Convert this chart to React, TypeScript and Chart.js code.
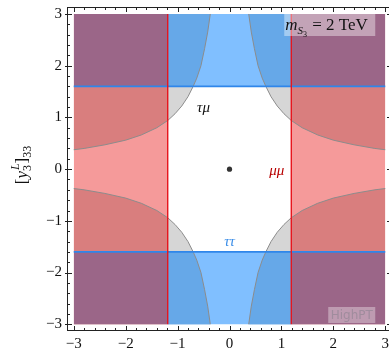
import React, { useEffect, useRef } from "react";
import { Chart, registerables } from "chart.js";

Chart.register(...registerables);

// Boundary of the tau-mu excluded region, first quadrant
const CURVE_X = [0.37, 0.42, 0.48, 0.55, 0.63, 0.7, 0.8, 0.92, 1.05, 1.19, 1.4, 1.7, 2.0, 2.4, 2.8, 3.0];
const CURVE_Y = [3.0, 2.65, 2.33, 2.0, 1.76, 1.6, 1.4, 1.22, 1.07, 0.94, 0.8, 0.66, 0.56, 0.47, 0.4, 0.375];

// Limits
const MUMU_LIMIT = 1.19; // |x| beyond is excluded (mu mu)
const TAUTAU_LIMIT = 1.6; // |y| beyond is excluded (tau tau)
const RANGE = 3;

// Axis ticks
const X_TICKS = [-3, -2, -1, 0, 1, 2, 3];
const Y_TICKS = [-3, -2, -1, 0, 1, 2, 3];

// Benchmark point
const POINT = [{ x: 0, y: 0 }];

// Labels
const LABEL_TAUMU = { x: -0.5, y: 1.19, text: "τμ" };
const LABEL_MUMU = { x: 0.91, y: -0.04, text: "μμ" };
const LABEL_TAUTAU = { x: 0.0, y: -1.41, text: "ττ" };

const C_GRAY = "#d6d6d6";
const C_PINK = "#f59a9a";
const C_DARKRED = "#d97e7e";
const C_LBLUE = "#80bfff";
const C_DBLUE = "#66a8e8";
const C_PURPLE = "#9b6688";
const C_REDLINE = "#e8141c";
const C_BLUELINE = "#2f86ea";
const C_CURVE = "#8c8c8c";

type P = { x: number; y: number };

function curve(sx: number, sy: number): P[] {
  const pts = CURVE_X.map((x, i) => ({ x: sx * x, y: sy * CURVE_Y[i] }));
  return pts.sort((a, b) => a.x - b.x);
}

function fillSet(data: P[], color: string, value: number, order: number) {
  return {
    type: "line" as const,
    data,
    borderWidth: 0,
    borderColor: "rgba(0,0,0,0)",
    backgroundColor: color,
    pointRadius: 0,
    fill: { value },
    tension: 0,
    order,
  };
}

function lineSet(data: P[], color: string, width: number, order: number) {
  return {
    type: "line" as const,
    data,
    borderWidth: width,
    borderColor: color,
    backgroundColor: color,
    pointRadius: 0,
    fill: false,
    tension: 0,
    order,
  };
}

function buildDatasets() {
  const ds: any[] = [];
  const quads = [
    [1, 1],
    [-1, 1],
    [-1, -1],
    [1, -1],
  ];
  quads.forEach(([sx, sy]) => ds.push(fillSet(curve(sx, sy), C_GRAY, sy * RANGE, 100)));
  [1, -1].forEach((s) => {
    const a = s * MUMU_LIMIT;
    const b = s * RANGE;
    ds.push(fillSet([{ x: Math.min(a, b), y: RANGE }, { x: Math.max(a, b), y: RANGE }], C_PINK, -RANGE, 90));
  });
  quads.forEach(([sx, sy]) => {
    const pts = curve(sx, sy).filter((p) => Math.abs(p.x) >= MUMU_LIMIT - 1e-9);
    ds.push(fillSet(pts, C_DARKRED, sy * TAUTAU_LIMIT, 80));
  });
  [1, -1].forEach((s) => {
    ds.push(
      fillSet([{ x: -MUMU_LIMIT, y: s * RANGE }, { x: MUMU_LIMIT, y: s * RANGE }], C_LBLUE, s * TAUTAU_LIMIT, 70)
    );
  });
  quads.forEach(([sx, sy]) => {
    const pts = curve(sx, sy).filter((p) => Math.abs(p.y) >= TAUTAU_LIMIT - 1e-9);
    pts.push({ x: sx * MUMU_LIMIT, y: sy * TAUTAU_LIMIT });
    pts.sort((a, b) => a.x - b.x);
    ds.push(fillSet(pts, C_DBLUE, sy * RANGE, 60));
  });
  quads.forEach(([sx, sy]) => {
    const a = sx * MUMU_LIMIT;
    const b = sx * RANGE;
    ds.push(
      fillSet([{ x: Math.min(a, b), y: sy * RANGE }, { x: Math.max(a, b), y: sy * RANGE }], C_PURPLE, sy * TAUTAU_LIMIT, 50)
    );
  });
  quads.forEach(([sx, sy]) => ds.push(lineSet(curve(sx, sy), C_CURVE, 1, 40)));
  [1, -1].forEach((s) =>
    ds.push(lineSet([{ x: -RANGE, y: s * TAUTAU_LIMIT }, { x: RANGE, y: s * TAUTAU_LIMIT }], C_BLUELINE, 1.6, 30))
  );
  [1, -1].forEach((s) =>
    ds.push(lineSet([{ x: s * MUMU_LIMIT, y: -RANGE }, { x: s * MUMU_LIMIT, y: RANGE }], C_REDLINE, 1.4, 20))
  );
  ds.push({
    type: "scatter" as const,
    data: POINT,
    pointRadius: 2.6,
    backgroundColor: "#333333",
    borderWidth: 0,
    order: 10,
  });
  return ds;
}

const SERIF = "'Liberation Serif', 'DejaVu Serif', serif";

const fmt = (v: number) => (v < 0 ? "\u2212" + Math.abs(v) : String(v));

const framePlugin = {
  id: "frameDeco",
  afterDatasetsDraw(chart: any) {
    const ctx = chart.ctx;
    const xs = chart.scales.x;
    const ys = chart.scales.y;
    const ca = chart.chartArea;
    ctx.save();

    const put = (l: { x: number; y: number; text: string }, color: string) => {
      ctx.font = "italic 15px " + SERIF;
      ctx.fillStyle = color;
      ctx.textAlign = "center";
      ctx.textBaseline = "middle";
      ctx.fillText(l.text, xs.getPixelForValue(l.x), ys.getPixelForValue(l.y));
    };
    put(LABEL_TAUMU, "#111111");
    put(LABEL_MUMU, "#b80000");
    put(LABEL_TAUTAU, "#3b8ee8");

    const x3 = xs.getPixelForValue(RANGE);

    // m_S3 box
    {
      const bx1 = x3 - 101;
      const bx2 = x3 - 10;
      const by1 = ca.top + 6;
      const by2 = ca.top + 29;
      ctx.fillStyle = "rgba(255,255,255,0.4)";
      ctx.fillRect(bx1, by1, bx2 - bx1, by2 - by1);
      ctx.textAlign = "left";
      ctx.textBaseline = "alphabetic";
      ctx.fillStyle = "#111111";
      const base = by1 + 17;
      let x = bx1 + 1;
      ctx.font = "italic 17px " + SERIF;
      ctx.fillText("m", x, base);
      x += ctx.measureText("m").width;
      ctx.font = "italic 11px " + SERIF;
      ctx.fillText("S", x, base + 4);
      x += ctx.measureText("S").width;
      ctx.font = "8px " + SERIF;
      ctx.fillText("3", x, base + 7);
      x += ctx.measureText("3").width;
      ctx.font = "17px " + SERIF;
      ctx.fillText(" = 2 TeV", x + 1, base);
    }

    // HighPT watermark
    {
      const bx1 = x3 - 57;
      const bx2 = x3 - 10;
      const by1 = ca.bottom - 24;
      const by2 = ca.bottom - 8;
      ctx.fillStyle = "rgba(255,255,255,0.35)";
      ctx.fillRect(bx1, by1, bx2 - bx1, by2 - by1);
      ctx.font = "12px 'DejaVu Sans', sans-serif";
      ctx.fillStyle = "#a08c9d";
      ctx.textAlign = "center";
      ctx.textBaseline = "middle";
      ctx.fillText("HighPT", (bx1 + bx2) / 2, (by1 + by2) / 2 + 1);
    }

    // frame
    ctx.strokeStyle = "#222222";
    ctx.lineWidth = 1;
    ctx.strokeRect(ca.left + 0.5, ca.top + 0.5, ca.right - ca.left - 1, ca.bottom - ca.top - 1);

    ctx.beginPath();
    for (let i = -15; i <= 15; i++) {
      const v = i / 5;
      const major = i % 5 === 0;
      const len = major ? 5 : 3;
      const px = Math.round(xs.getPixelForValue(v)) + 0.5;
      if (px > ca.left && px < ca.right) {
        ctx.moveTo(px, ca.bottom);
        ctx.lineTo(px, ca.bottom - len);
        ctx.moveTo(px, ca.top);
        ctx.lineTo(px, ca.top + len);
      }
      const py = Math.round(ys.getPixelForValue(v)) + 0.5;
      if (py > ca.top && py < ca.bottom) {
        ctx.moveTo(ca.left - (major ? 2 : 0), py);
        ctx.lineTo(ca.left + len, py);
        ctx.moveTo(ca.right, py);
        ctx.lineTo(ca.right - len, py);
      }
    }
    ctx.stroke();

    // y axis title [y_3^L]_33, rotated
    {
      ctx.translate(21, 165);
      ctx.rotate(-Math.PI / 2);
      ctx.fillStyle = "#111111";
      ctx.textAlign = "left";
      ctx.textBaseline = "alphabetic";
      ctx.font = "17px " + SERIF;
      const wb = ctx.measureText("[").width;
      ctx.font = "italic 17px " + SERIF;
      const wy = ctx.measureText("y").width;
      ctx.font = "12px " + SERIF;
      const w3 = ctx.measureText("3").width;
      ctx.font = "italic 12px " + SERIF;
      const wL = ctx.measureText("L").width;
      ctx.font = "17px " + SERIF;
      const wb2 = ctx.measureText("]").width;
      ctx.font = "12px " + SERIF;
      const w33 = ctx.measureText("33").width;
      const w = wb + wy + Math.max(w3, wL) + 1 + wb2 + w33;
      let x = -w / 2;
      const base = 6;
      ctx.font = "17px " + SERIF;
      ctx.fillText("[", x, base);
      x += wb;
      ctx.font = "italic 17px " + SERIF;
      ctx.fillText("y", x, base);
      x += wy;
      ctx.font = "12px " + SERIF;
      ctx.fillText("3", x, base + 4);
      ctx.font = "italic 12px " + SERIF;
      ctx.fillText("L", x + 1, base - 8);
      x += Math.max(w3, wL) + 1;
      ctx.font = "17px " + SERIF;
      ctx.fillText("]", x, base);
      x += wb2;
      ctx.font = "12px " + SERIF;
      ctx.fillText("33", x, base + 4);
    }
    ctx.restore();
  },
};

export default function App() {
  const ref = useRef<HTMLCanvasElement | null>(null);
  useEffect(() => {
    if (!ref.current) return;
    const chart = new Chart(ref.current, {
      type: "line",
      data: { datasets: buildDatasets() },
      options: {
        animation: false,
        responsive: false,
        devicePixelRatio: 1,
        layout: { padding: { top: 7, right: 0, left: 0, bottom: 0 } },
        plugins: {
          legend: { display: false },
          tooltip: { enabled: false },
        },
        scales: {
          x: {
            type: "linear",
            min: -3.13,
            max: 3.13,
            grid: { display: false, drawTicks: false },
            border: { display: false },
            afterBuildTicks: (s: any) => {
              s.ticks = X_TICKS.map((v) => ({ value: v }));
            },
            afterFit: (s: any) => {
              s.height = 19;
              s.paddingLeft = 0;
              s.paddingRight = 0;
            },
            ticks: {
              padding: 4,
              maxRotation: 0,
              autoSkip: false,
              color: "#111111",
              font: { family: SERIF, size: 15 },
              callback: (v: any) => fmt(Number(v)),
            },
          },
          y: {
            type: "linear",
            min: -3.13,
            max: 3.135,
            grid: { display: false, drawTicks: false },
            border: { display: false },
            afterBuildTicks: (s: any) => {
              s.ticks = Y_TICKS.map((v) => ({ value: v }));
            },
            afterFit: (s: any) => {
              s.width = 67;
              s.paddingTop = 0;
              s.paddingBottom = 0;
            },
            ticks: {
              padding: 5,
              autoSkip: false,
              color: "#111111",
              font: { family: SERIF, size: 15 },
              callback: (v: any) => fmt(Number(v)),
            },
          },
        },
      },
      plugins: [framePlugin],
    } as any);
    return () => chart.destroy();
  }, []);
  return (
    <div style={{ position: "fixed", left: 0, top: 0, width: 389, height: 350, overflow: "hidden", background: "#fff" }}>
      <canvas ref={ref} width={396} height={350} style={{ display: "block" }} />
    </div>
  );
}
